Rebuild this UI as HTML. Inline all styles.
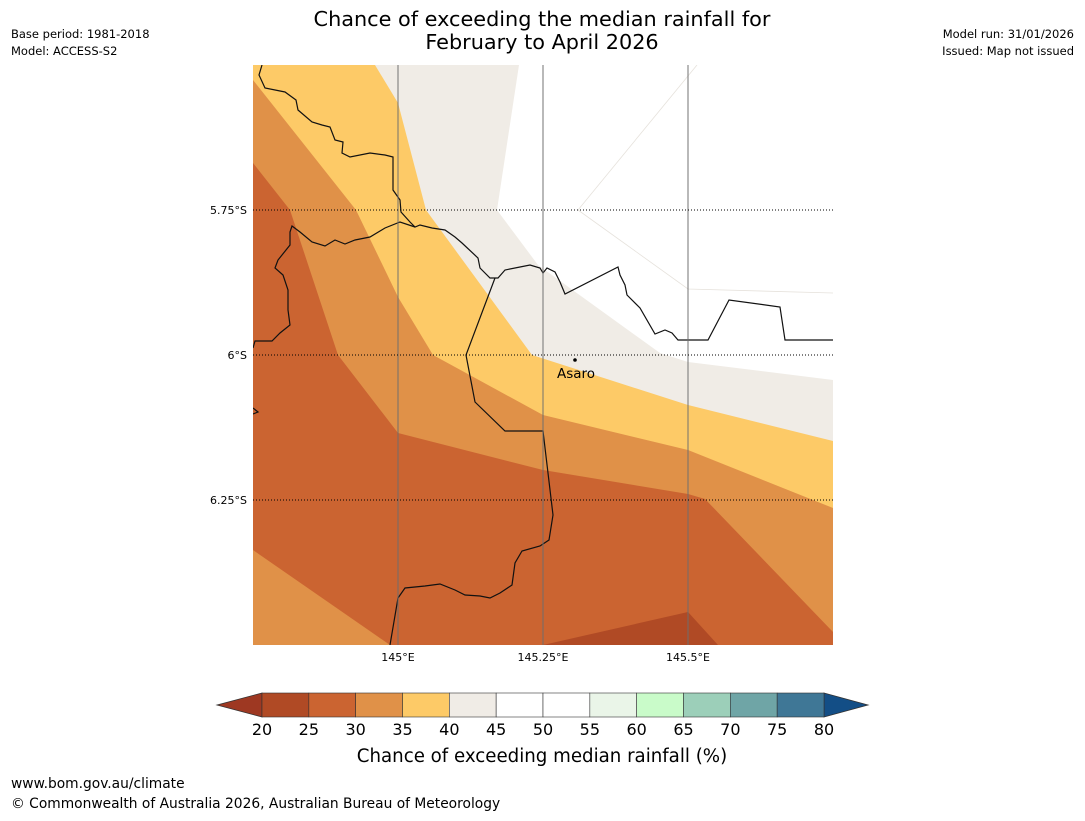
<!DOCTYPE html>
<html><head><meta charset="utf-8"><style>
body{margin:0;background:#fff;font-family:"Liberation Sans","DejaVu Sans",sans-serif;}
svg text{font-family:"DejaVu Sans","Liberation Sans",sans-serif;}
</style></head><body>
<svg id="s" width="1085" height="816" viewBox="0 0 1085 816" xmlns="http://www.w3.org/2000/svg">
<text x="542" y="26" font-size="20.8" text-anchor="middle">Chance of exceeding the median rainfall for</text>
<text x="542" y="49" font-size="20.8" text-anchor="middle">February to April 2026</text>
<text x="11" y="38" font-size="11.5">Base period: 1981-2018</text>
<text x="11" y="55" font-size="11.5">Model: ACCESS-S2</text>
<text x="1074" y="38" font-size="11.5" text-anchor="end">Model run: 31/01/2026</text>
<text x="1074" y="55" font-size="11.5" text-anchor="end">Issued: Map not issued</text>
<defs><clipPath id="pc"><rect x="253" y="65" width="580" height="580"/></clipPath></defs>
<g id="map" clip-path="url(#pc)"></g>
<g id="grid"></g>
<g id="cb"></g>
<text x="542" y="762" font-size="18.2" text-anchor="middle">Chance of exceeding median rainfall (%)</text>
<text x="11" y="788" font-size="13.8">www.bom.gov.au/climate</text>
<text x="11" y="808" font-size="13.8">© Commonwealth of Australia 2026, Australian Bureau of Meteorology</text>
</svg>
<script>
// ---- data (pixel-read positions converted into lon / lat-south) ----
const lonMin=144.75, lonMax=145.75, latMin=5.5, latMax=6.5;
const lonTicks=[145,145.25,145.5];
const lonTickLabels=["145°E","145.25°E","145.5°E"];
const latTicks=[5.75,6,6.25];
const latTickLabels=["5.75°S","6°S","6.25°S"];
const cbLevels=[20,25,30,35,40,45,50,55,60,65,70,75,80];
const cbColors=["#b04a25","#cb6431","#e09148","#fdca67","#f0ece6","#ffffff","#ffffff","#eaf5e8","#c9fbc9","#9ccfb9","#6fa5a6","#3f7796"];
const cbUnder="#9e3822", cbOver="#134e86";
function P(x,y){return [144.75+(x-253)/580, 5.5+(y-65)/580];}
const fill25=[P(253,65),P(833,65),P(833,645),P(253,645)];
const fill30bl=[P(253,550),P(390,645),P(253,645)];
const fill20=[P(543,645),P(688,612),P(718,645)];
const fill30=[P(253,163),P(290,210),P(338,355),P(398,433),P(543,470),P(688,494),P(705,499),P(833,632),P(833,65),P(253,65)];
const fill35=[P(253,80),P(356,210),P(398,297),P(433,355),P(543,415),P(688,450),P(833,508),P(833,65),P(253,65)];
const fill40=[P(375,65),P(398,103),P(426,210),P(532,355),P(688,405),P(833,441),P(833,65)];
const fill45=[P(519,65),P(497,210),P(538,265),P(660,353),P(688,362),P(833,380),P(833,65)];
const faint1=[P(578,210),P(697,65)];
const faint2=[P(578,210),P(688,289),P(833,293)];
const borderA=[P(262,65),P(259,75),P(265,88),P(285,92),P(296,100),P(298,110),P(312,122),P(322,125),P(330,127),P(335,140),P(343,142),P(342,153),P(350,157),P(370,153),P(385,155),P(393,157),P(393,190),P(400,200),P(401,212),P(410,222),P(415,227),P(420,225),P(432,228),P(445,230),P(455,237),P(462,243),P(478,258),P(480,268),P(490,278),P(498,278),P(505,270),P(520,267),P(530,265),P(540,268),P(543,273),P(547,268),P(555,272),P(560,282),P(565,294),P(618,267),P(620,275),P(625,285),P(627,295),P(640,308),P(655,334),P(665,330),P(672,333),P(678,340),P(708,340),P(729,300),P(780,307),P(785,340),P(833,340)];
const borderB=[P(415,227),P(400,222),P(385,228),P(370,237),P(355,240),P(345,244),P(335,240),P(325,246),P(312,242),P(300,232),P(292,226),P(290,232),P(290,245),P(278,260),P(275,268),P(283,275),P(288,290),P(288,310),P(290,325),P(280,333),P(272,341),P(255,341),P(253,348)];
const borderC=[P(495,278),P(466,355),P(475,402),P(505,431),P(543,431),P(553,515),P(549,540),P(540,546),P(522,551),P(515,563),P(512,585),P(500,593),P(490,598),P(480,596),P(465,595),P(455,590),P(440,584),P(425,586),P(405,588),P(398,598),P(390,645)];
const borderD=[P(253,408),P(258,412),P(253,414)];
const towns=["Asaro"];
const townLoc=[P(575,360)];
const X0=253,X1=833,Y0=65,Y1=645;
const sx=l=>X0+(l-lonMin)/(lonMax-lonMin)*(X1-X0);
const sy=l=>Y0+(l-latMin)/(latMax-latMin)*(Y1-Y0);
const NS="http://www.w3.org/2000/svg";
function el(t,a,p){const e=document.createElementNS(NS,t);for(const k in a)e.setAttribute(k,a[k]);p.appendChild(e);return e;}
const pts=a=>a.map(p=>sx(p[0]).toFixed(1)+","+sy(p[1]).toFixed(1)).join(" ");
const map=document.getElementById('map');
const fills=[[fill25,"#cb6431","band-25-30"],[fill30bl,"#e09148","band-30-35-southwest"],[fill20,"#b04a25","band-20-25"],[fill30,"#e09148","band-30-35"],[fill35,"#fdca67","band-35-40"],[fill40,"#f0ece6","band-40-45"],[fill45,"#ffffff","band-45-55"]];
fills.forEach(f=>{const e=el('polygon',{points:pts(f[0]),fill:f[1]},map);

});
[faint1,faint2].forEach(f=>{const e=el('polyline',{points:pts(f),fill:"none",stroke:"#e6e2dc","stroke-width":0.8},map);

});
[borderA,borderB,borderC,borderD].forEach(b=>{const e=el('polyline',{points:pts(b),fill:"none",stroke:"#111","stroke-width":1.2},map);

});
const grid=document.getElementById('grid');
lonTicks.forEach((l,i)=>{const e=el('line',{x1:sx(l),x2:sx(l),y1:Y0,y2:Y1,stroke:"#6e6e6e","stroke-width":1.2,"stroke-opacity":0.8},grid);


const t=el('text',{x:sx(l),y:Y1+16,"font-size":11,"text-anchor":"middle"},grid);t.textContent=lonTickLabels[i];

});
latTicks.forEach((l,i)=>{const e=el('line',{x1:X0,x2:X1,y1:sy(l),y2:sy(l),stroke:"#000","stroke-width":1,"stroke-dasharray":"1,2"},grid);


const t=el('text',{x:X0-6,y:sy(l)+4,"font-size":11,"text-anchor":"end"},grid);t.textContent=latTickLabels[i];

});
towns.forEach((n,i)=>{const c=el('circle',{cx:sx(townLoc[i][0]),cy:sy(townLoc[i][1]),r:1.8,fill:"#000"},grid);


const t=el('text',{x:sx(townLoc[i][0])+1,y:sy(townLoc[i][1])+18,"font-size":13.5,"text-anchor":"middle"},grid);t.textContent=n;

});
const cb=document.getElementById('cb');
const C0=262,C1=824,CY=693,CH=24;
const cx=v=>C0+(v-cbLevels[0])/(cbLevels[cbLevels.length-1]-cbLevels[0])*(C1-C0);
let e=el('polygon',{points:`${C0},${CY} ${C0},${CY+CH} 217,${CY+CH/2}`,fill:cbUnder,stroke:"#333","stroke-width":0.8},cb);


e=el('polygon',{points:`${C1},${CY} ${C1},${CY+CH} 868,${CY+CH/2}`,fill:cbOver,stroke:"#333","stroke-width":0.8},cb);


cbColors.forEach((c,i)=>{const r=el('rect',{x:cx(cbLevels[i]),y:CY,width:cx(cbLevels[i+1])-cx(cbLevels[i]),height:CH,fill:c,stroke:"#333","stroke-width":0.6},cb);

});
cbLevels.forEach(v=>{const t=el('text',{x:cx(v),y:735,"font-size":16,"text-anchor":"middle"},cb);t.textContent=v;

});
</script>
</body></html>
